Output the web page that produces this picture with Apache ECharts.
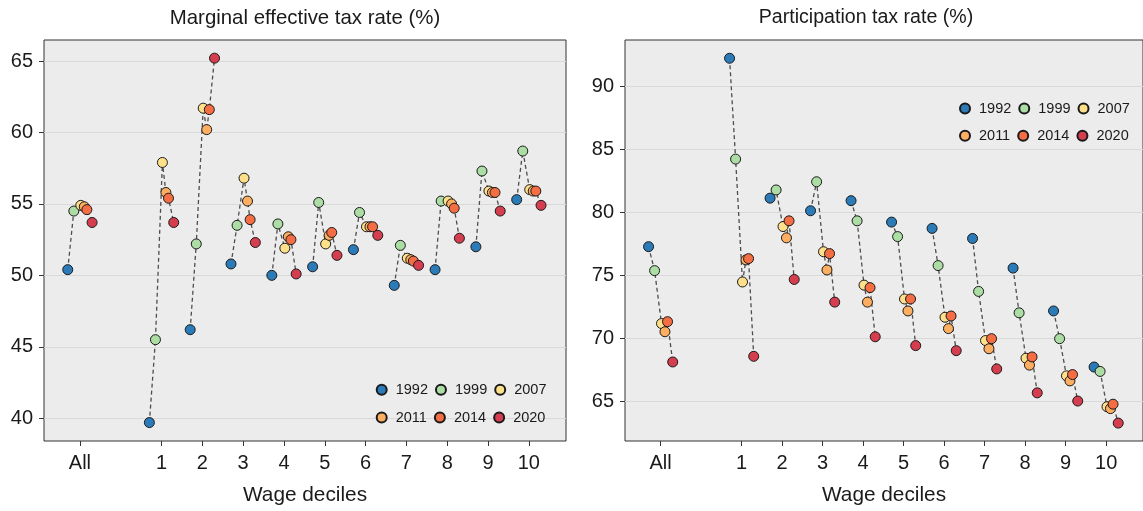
<!DOCTYPE html>
<html>
<head>
<meta charset="utf-8">
<script src="https://cdn.jsdelivr.net/npm/echarts@6/dist/echarts.min.js"></script>
<style>
  html, body { margin: 0; padding: 0; background: #ffffff; }
  #chart { width: 1143px; height: 511px; }
</style>
</head>
<body>
<div id="chart"></div>
<script>
// Groups along the x axis: the whole population, then wage deciles 1-10
const groupLabels = ['All', '1', '2', '3', '4', '5', '6', '7', '8', '9', '10'];
const years = [1992, 1999, 2007, 2011, 2014, 2020];

// Marginal effective tax rate (%) by year, one value per group
const mtr1992 = [50.4, 39.7, 46.2, 50.8, 50.0, 50.6, 51.8, 49.3, 50.4, 52.0, 55.3];
const mtr1999 = [54.5, 45.5, 52.2, 53.5, 53.6, 55.1, 54.4, 52.1, 55.2, 57.3, 58.7];
const mtr2007 = [54.9, 57.9, 61.7, 56.8, 51.9, 52.2, 53.4, 51.2, 55.2, 55.9, 56.0];
const mtr2011 = [54.8, 55.8, 60.2, 55.2, 52.7, 52.8, 53.4, 51.1, 55.0, 55.8, 55.9];
const mtr2014 = [54.6, 55.4, 61.6, 53.9, 52.5, 53.0, 53.4, 51.0, 54.7, 55.8, 55.9];
const mtr2020 = [53.7, 53.7, 65.2, 52.3, 50.1, 51.4, 52.8, 50.7, 52.6, 54.5, 54.9];

// Participation tax rate (%) by year, one value per group
const ptr1992 = [77.25, 92.2, 81.1, 80.1, 80.9, 79.2, 78.7, 77.9, 75.55, 72.15, 67.7];
const ptr1999 = [75.35, 84.2, 81.75, 82.4, 79.3, 78.05, 75.75, 73.7, 72.0, 69.95, 67.35];
const ptr2007 = [71.15, 74.45, 78.85, 76.85, 74.2, 73.1, 71.65, 69.8, 68.4, 67.0, 64.55];
const ptr2011 = [70.5, 76.2, 77.95, 75.4, 72.85, 72.15, 70.75, 69.15, 67.85, 66.6, 64.4];
const ptr2014 = [71.3, 76.3, 79.3, 76.7, 74.0, 73.1, 71.75, 69.95, 68.5, 67.1, 64.75];
const ptr2020 = [68.1, 68.55, 74.65, 72.85, 70.1, 69.4, 69.0, 67.55, 65.65, 65.0, 63.25];

// Tick labels on the value axes
const mtrTicks = [40, 45, 50, 55, 60, 65];
const ptrTicks = [65, 70, 75, 80, 85, 90];

const panelTitles = ['Marginal effective tax rate (%)', 'Participation tax rate (%)'];
const xAxisTitle = 'Wage deciles';

const yearColors = ['#2b7bb9', '#abdda4', '#fee08b', '#fdae61', '#f46d43', '#d53e4f'];

const mtrByYear = [mtr1992, mtr1999, mtr2007, mtr2011, mtr2014, mtr2020];
const ptrByYear = [ptr1992, ptr1999, ptr2007, ptr2011, ptr2014, ptr2020];

// "All" sits apart from the deciles, leaving one empty slot between them
function groupPos(i) { return i === 0 ? 0 : i + 1; }
// Years are spread within each group in proportion to calendar time
function yearOffset(y) { return (y - 2006) * 0.0213; }

const tickPositions = groupLabels.map((_, i) => groupPos(i));
function labelAt(v) {
  const i = tickPositions.indexOf(Math.round(v));
  return i >= 0 ? groupLabels[i] : '';
}

const textColor = '#1a1a1a';
const fontFamily = 'Liberation Sans, Arial, sans-serif';

function buildSeries(panel, byYear) {
  const out = [];
  // dashed connector through the six years of each group
  groupLabels.forEach((_, g) => {
    out.push({
      type: 'line',
      xAxisIndex: panel, yAxisIndex: panel,
      silent: true, showSymbol: false, symbol: 'none',
      z: 1,
      lineStyle: { color: '#4d4d4d', width: 1.3, type: [4, 3] },
      data: years.map((y, k) => [groupPos(g) + yearOffset(y), byYear[k][g]])
    });
  });
  years.forEach((y, k) => {
    out.push({
      type: 'scatter',
      name: String(y),
      xAxisIndex: panel, yAxisIndex: panel,
      symbol: 'circle', symbolSize: 10,
      z: 3 + k,
      itemStyle: { color: yearColors[k], borderColor: '#1a1a1a', borderWidth: 1, opacity: 1 },
      data: groupLabels.map((_, g) => [groupPos(g) + yearOffset(y), byYear[k][g]])
    });
  });
  return out;
}

function xAxisFor(panel) {
  return {
    gridIndex: panel, type: 'value', min: -0.88, max: 11.91,
    splitLine: { show: false },
    axisLine: { show: false, onZero: false },
    axisTick: { show: true, customValues: tickPositions, length: 5, lineStyle: { color: '#333333', width: 1 } },
    axisLabel: { customValues: tickPositions, formatter: labelAt, fontSize: 20, color: textColor, margin: 12, fontFamily },
    name: xAxisTitle, nameLocation: 'middle', nameGap: 44,
    nameTextStyle: { fontSize: 20.8, color: textColor, fontFamily }
  };
}

function yAxisFor(panel, min, max, ticks) {
  return {
    gridIndex: panel, type: 'value', min, max,
    axisLine: { show: false, onZero: false },
    axisTick: { show: true, customValues: ticks, length: 5, lineStyle: { color: '#333333', width: 1 } },
    axisLabel: { customValues: ticks, fontSize: 20, color: textColor, margin: 11, fontFamily },
    splitLine: { show: true, lineStyle: { color: '#d9d9d9', width: 1 } }
  };
}

function legendRow(names, left, top) {
  return {
    data: names.map(String), left, top, orient: 'horizontal', padding: 0,
    icon: 'circle', itemWidth: 10, itemHeight: 10, itemGap: 7,
    selectedMode: false,
    textStyle: { fontSize: 14.5, color: textColor, fontFamily, padding: [0, 0, 0, 4] }
  };
}

const chart = echarts.init(document.getElementById('chart'), null, { renderer: 'canvas' });
chart.setOption({
  animation: false,
  backgroundColor: '#ffffff',
  title: [
    { text: panelTitles[0], left: 305, top: 8, textAlign: 'center', padding: 0,
      textStyle: { fontSize: 20.4, fontWeight: 'normal', color: textColor, fontFamily } },
    { text: panelTitles[1], left: 866, top: 8, textAlign: 'center', padding: 0,
      textStyle: { fontSize: 19.6, fontWeight: 'normal', color: textColor, fontFamily } }
  ],
  grid: [
    { left: 44, right: 577, top: 40, bottom: 70, show: true, backgroundColor: '#ececec', borderColor: '#333333', borderWidth: 1 },
    { left: 625, right: -4, top: 40, bottom: 70, show: true, backgroundColor: '#ececec', borderColor: '#333333', borderWidth: 1 }
  ],
  xAxis: [xAxisFor(0), xAxisFor(1)],
  yAxis: [yAxisFor(0, 38.41, 66.47, mtrTicks), yAxisFor(1, 61.83, 93.65, ptrTicks)],
  legend: [
    legendRow(years.slice(0, 3), 375.7, 382.3),
    legendRow(years.slice(3), 375.7, 410),
    legendRow(years.slice(0, 3), 959, 101),
    legendRow(years.slice(3), 959, 128.3)
  ],
  series: buildSeries(0, mtrByYear).concat(buildSeries(1, ptrByYear))
});
</script>
</body>
</html>
